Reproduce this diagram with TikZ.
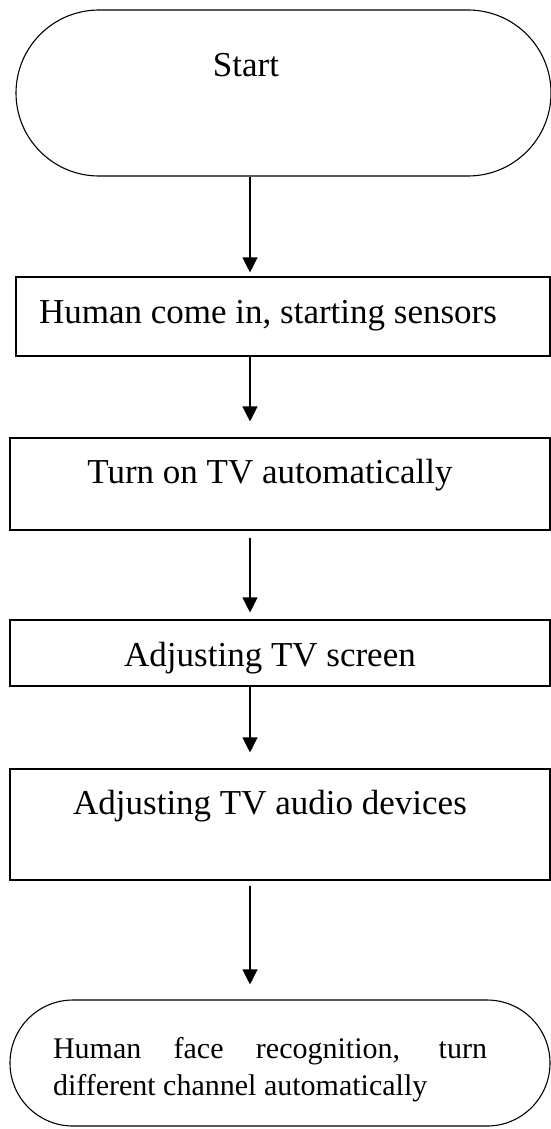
\documentclass[tikz,border=0pt]{standalone}
\usepackage{fontspec}
\setmainfont{Liberation Serif}
\usetikzlibrary{arrows.meta}

\begin{document}
\begin{tikzpicture}[x=1pt,y=1pt,
  term/.style={draw,line width=1.1pt,rounded corners=#1,inner sep=0pt},
  box/.style={draw,line width=1.1pt,inner sep=0pt},
  txt/.style={anchor=base,inner sep=0pt,font=\fontsize{35}{42}\selectfont},
  flow/.style={line width=1.1pt,-{Triangle[length=15pt,width=15pt]}}]
\useasboundingbox (0,0) rectangle (551,-1129);
\coordinate (axis) at (250,0);

\node [term=83pt,minimum width=535pt,minimum height=166pt] (start) at (283.5,-93) {};
\node [txt] (starttxt) at (246,-77) {Start};

\node [box,minimum width=534pt,minimum height=79pt] (sensors) at (283,-316.5) {};
\node [txt] (sensorstxt) at (268,-323) {Human come in, starting sensors};

\node [box,minimum width=540pt,minimum height=92pt] (tvon) at (280,-484) {};
\node [txt] (tvontxt) at (270,-483) {Turn on TV automatically};

\node [box,minimum width=540pt,minimum height=66pt] (screen) at (280,-653) {};
\node [txt] (screentxt) at (270,-666) {Adjusting TV screen};

\node [box,minimum width=540pt,minimum height=111pt] (audio) at (280,-824.5) {};
\node [txt] (audiotxt) at (270,-814) {Adjusting TV audio devices};

\node [term=63pt,minimum width=540pt,minimum height=126pt] (stop) at (280,-1063) {};
\node [anchor=north,inner sep=0pt,text width=434pt,align=justify,
       font=\fontsize{30}{37}\selectfont] (stoptxt) at (270,-1037)
  {Human face recognition, turn\linebreak different channel automatically};

\draw [flow,shorten >=4pt] (start.south -| axis) -- (sensors.north -| axis);
\draw [flow,shorten >=16pt] (sensors.south -| axis) -- (tvon.north -| axis);
\draw [flow,shorten <=7pt,shorten >=7pt] (tvon.south -| axis) -- (screen.north -| axis);
\draw [flow,shorten >=16pt] (screen.south -| axis) -- (audio.north -| axis);
\draw [flow,shorten <=5pt,shorten >=15pt] (audio.south -| axis) -- (stop.north -| axis);
\end{tikzpicture}
\end{document}
